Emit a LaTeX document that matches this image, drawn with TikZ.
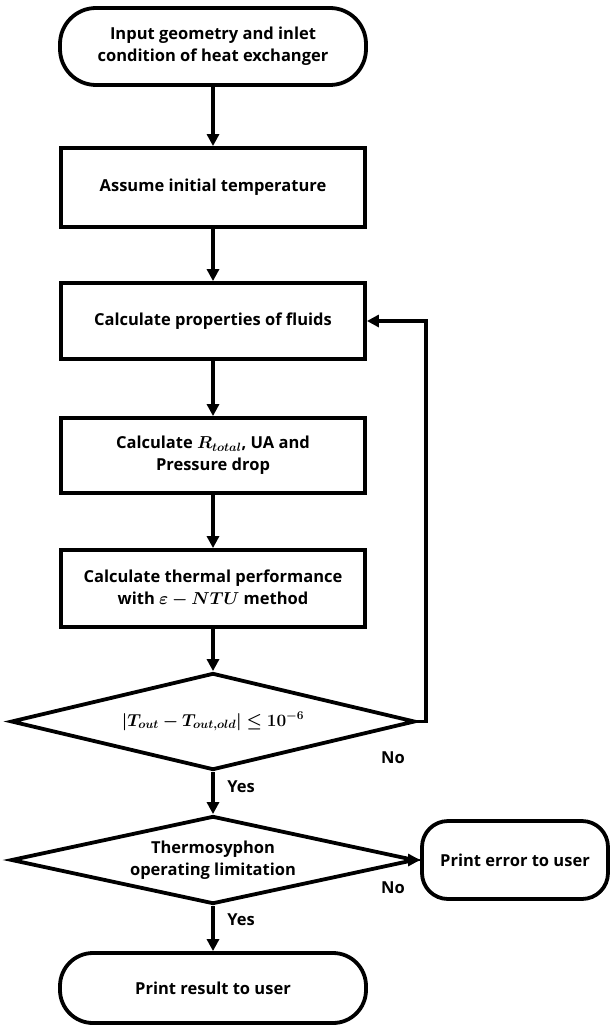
\documentclass[tikz,border=0pt]{standalone}
\usepackage{amsmath}
\usepackage{bm}
\usepackage{fontspec}
\setmainfont{Open Sans}[BoldFont={* Bold}]
\usetikzlibrary{shapes.geometric,arrows.meta}
\begin{document}
\begin{tikzpicture}[x=1pt,y=-1pt,
  txt/.style={font=\fontsize{16.5}{22}\selectfont\bfseries},
  base/.style={draw, line width=3.8pt, align=center, txt, inner sep=0pt},
  term/.style={base, rounded corners=36pt, minimum width=306pt, minimum height=77pt},
  proc/.style={base, rectangle, minimum width=304pt, minimum height=77pt},
  dec/.style={base, diamond, aspect=4.5, minimum width=404pt},
  arr/.style={line width=3.8pt, -{Triangle[length=12pt,width=12pt]}},
  lbl/.style={txt}]
\useasboundingbox (0,0) rectangle (611,1027);
\node[term] (start) at (213,46.5) {Input geometry and inlet\\condition of heat exchanger};
\node[proc, minimum height=79pt] (b1) at (213,187.5) {Assume initial temperature};
\node[proc, minimum height=76pt] (b2) at (213,321) {Calculate properties of fluids};
\node[proc, minimum height=75pt] (b3) at (213,455.5) {Calculate $\bm{R_{total}}$, UA and\\Pressure drop};
\node[proc, minimum height=77pt] (b4) at (213,588.5) {Calculate thermal performance\\with $\bm{\varepsilon-NTU}$ method};
\node[dec, minimum height=97pt] (d1) at (213,721.5) {$\bm{\left|T_{out}-T_{out,old}\right|\leq 10^{-6}}$};
\node[dec, minimum height=88pt] (d2) at (213,860) {Thermosyphon\\operating limitation};
\node[base, rounded corners=26pt, minimum width=186pt, minimum height=78pt] (perr) at (515,860) {Print error to user};
\node[base, rounded corners=33pt, minimum width=306pt, minimum height=70pt] (pres) at (213,988) {Print result to user};
\coordinate (loopx) at (426,0);
\draw[arr] (start) -- (b1);
\draw[arr] (b1) -- (b2);
\draw[arr] (b2) -- (b3);
\draw[arr] (b3) -- (b4);
\draw[arr] (b4) -- (d1);
\draw[arr] (d1) -- (d2);
\draw[arr] (d2) -- (pres);
\draw[arr] (d2) -- (perr);
\draw[arr, line join=miter] (d1.east) -- (d1.east -| loopx) |- (b2.east);
\node[lbl] (no1) at (393,758) {No};
\node[lbl] (yes1) at (241,787) {Yes};
\node[lbl] (no2) at (393,888) {No};
\node[lbl] (yes2) at (241,920) {Yes};
\end{tikzpicture}
\end{document}
